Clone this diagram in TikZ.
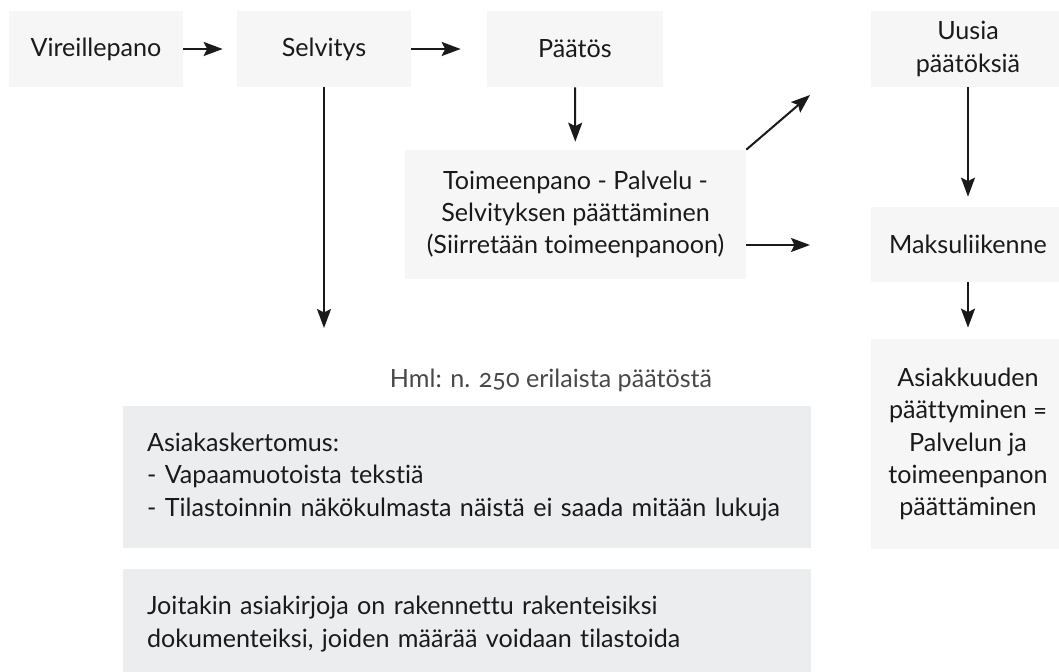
\documentclass[tikz,border=0pt]{standalone}
\usepackage{fontspec}
\setmainfont[Numbers=OldStyle, Ligatures=NoCommon]{Lato}
\usepackage{tikz}
\usetikzlibrary{arrows.meta,positioning,calc}
\definecolor{boxlight}{HTML}{F6F6F6}
\definecolor{boxnote}{HTML}{ECEDEF}
\definecolor{inkcol}{HTML}{1A1A1A}
\tikzset{
  stagebox/.style={fill=boxlight, text=inkcol, align=center, inner sep=0pt,
    font=\fontsize{14.3pt}{18.4pt}\selectfont, minimum height=1.52cm},
  notebox/.style={fill=boxnote, text=inkcol, align=left, inner xsep=0.48cm,
    inner ysep=0pt, text width=12.8cm, minimum width=13.76cm,
    font=\fontsize{14.3pt}{18.4pt}\selectfont},
  flow/.style={-{Stealth[length=0.38cm,width=0.28cm,inset=0.07cm]}, line width=1.15pt, inkcol},
}
\begin{document}
\begin{tikzpicture}[x=0.02cm, y=-0.02cm]
    \useasboundingbox (0,0) rectangle (1059,672);
    % main chain
    \node[stagebox, minimum width=3.48cm] (vir) at (96,49) {Vireillepano};
    \node[stagebox, minimum width=3.48cm] (sel) at (324,49) {Selvitys};
    \node[stagebox, minimum width=3.52cm] (paat) at (575,49) {Päätös};
    \node[stagebox, minimum width=6.82cm, minimum height=2.58cm] (toim) at (575.5,214.5)
      {Toimeenpano - Palvelu -\\Selvityksen päättäminen\\(Siirretään toimeenpanoon)};
    % right column
    \node[stagebox, minimum width=3.88cm] (uusi) at (968,49) {Uusia\\päätöksiä};
    \node[stagebox, minimum width=3.88cm, minimum height=1.5cm] (maks) at (968,244.5) {Maksuliikenne};
    \node[stagebox, minimum width=3.88cm, minimum height=4.2cm] (asiak) at (968,444)
      {Asiakkuuden\\päättyminen =\\Palvelun ja\\toimeenpanon\\päättäminen};
    % notes
    \node[text=inkcol!80, font=\fontsize{14.3pt}{18.4pt}\selectfont] (hml) at (551,380) {Hml: n. 250 erilaista päätöstä};
    \node[notebox, minimum height=2.84cm] (kert) at (467,477)
      {Asiakaskertomus:\\- Vapaamuotoista tekstiä\\- Tilastoinnin näkökulmasta näistä ei saada mitään lukuja};
    \node[notebox, minimum height=2.2cm] (joit) at (467,624)
      {Joitakin asiakirjoja on rakennettu rakenteisiksi\\dokumenteiksi, joiden määrää voidaan tilastoida};
    % free arrow ends
    \coordinate (selend) at (324,328);
    \coordinate (uusiin) at (810,95);
    \coordinate (maksin) at (810,245);
    % connectors
    \draw[flow, shorten >=0.28cm] (vir) -- (sel);
    \draw[flow, shorten >=0.52cm] (sel) -- (paat);
    \draw[flow] (sel) -- (selend);
    \draw[flow, shorten >=0.16cm] (paat) -- (toim);
    \draw[flow] (toim.north east) -- (uusiin);
    \draw[flow] (toim.east |- maksin) -- (maksin);
    \draw[flow, shorten >=0.2cm] (uusi) -- (maks);
    \draw[flow, shorten >=0.22cm] (maks) -- (asiak);
  \end{tikzpicture}
\end{document}
